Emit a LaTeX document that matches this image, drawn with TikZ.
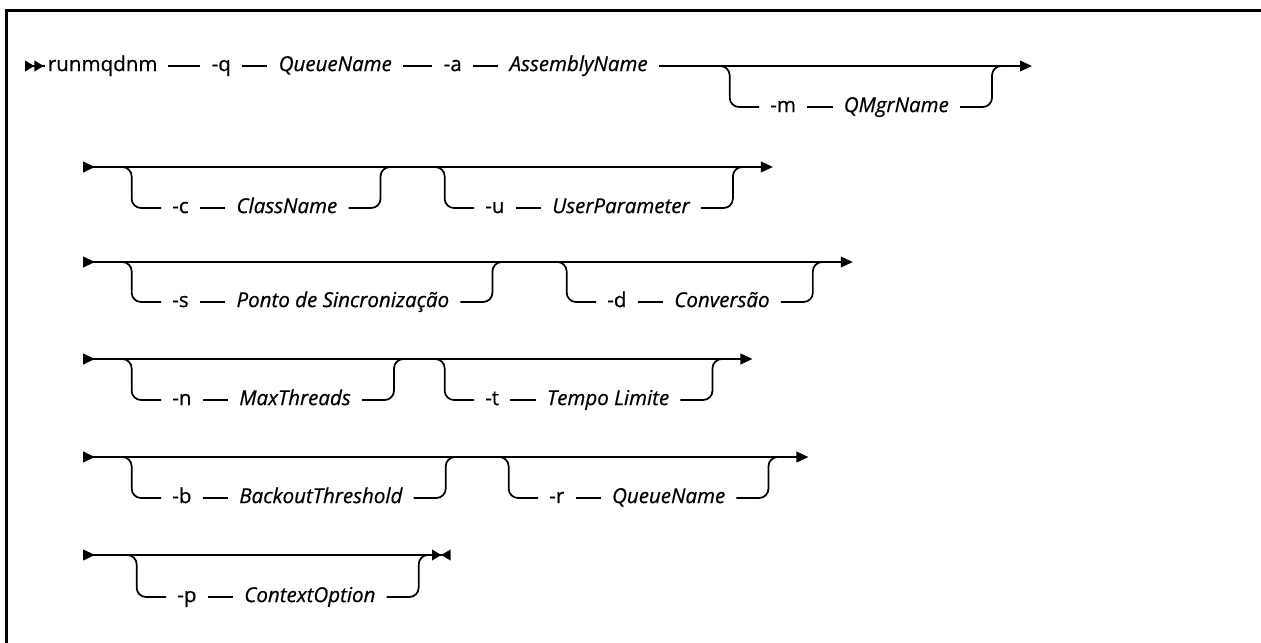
\documentclass[tikz,border=0pt]{standalone}
\usepackage{fontspec}
\setmainfont{Open Sans}[FakeBold=0.6]
\usetikzlibrary{arrows.meta,calc,positioning}
\tikzset{
  flag/.style={font=\fontsize{15.4}{18}\selectfont, inner xsep=8.25pt, inner ysep=0pt,
    text height=11pt, text depth=3.4pt},
  param/.style={flag, font=\fontsize{15.4}{18}\selectfont\itshape},
  command/.style={flag, inner xsep=2pt},
  rail/.style={draw=black, line width=1.3pt},
  branchline/.style={rail, rounded corners=7pt},
  mainrail/.style={rail, {Triangle[reversed,length=9pt,width=8pt]}-{Triangle[length=9pt,width=8pt]}},
  frame/.style={draw=black, line width=2.25pt}
}
\begin{document}
\begin{tikzpicture}[x=0.75pt, y=0.75pt]
  \useasboundingbox (0,0) rectangle (1261,-643);
  \draw[frame] (6.5,-643) -- (6.5,-10) -- (1261,-10);

  \coordinate (r1) at (25,-66);
  \node[command, anchor=west] (cmd) at (45,-66) {runmqdnm};
  \node[flag, right=30pt of cmd] (qflag) {-q};
  \node[param, right=19pt of qflag] (qname) {QueueName};
  \node[flag, right=22pt of qname] (aflag) {-a};
  \node[param, right=19pt of aflag] (aname) {AssemblyName};
  \node[flag, anchor=west] (mflag) at (759,-107) {-m};
  \node[param, right=19pt of mflag] (mname) {QMgrName};
  \coordinate[left=22pt of mflag] (min);
  \coordinate[right=24pt of mname] (mout);
  \coordinate (e1) at ($(r1 -| mout)+(30pt,0)$);
  \draw[rail, {Triangle[reversed,length=7pt,width=8pt,sep=0pt]Triangle[reversed,length=7pt,width=8pt,sep=0pt]}-] (r1) -- (cmd);
  \draw[rail, shorten <=6pt] (cmd) -- (qflag);
  \draw[rail] (qflag) -- (qname);
  \draw[rail] (qname) -- (aflag);
  \draw[rail] (aflag) -- (aname);
  \draw[rail, -{Triangle[length=9pt,width=8pt]}] (aname) -- (e1);
  \draw[rail] (mflag) -- (mname);
  \draw[branchline] (r1 -| min) ++(-8pt,0) -- (r1 -| min) -- (min) -- (mflag);
  \draw[branchline] (mname) -- (mout) -- (r1 -| mout) -- ++(8pt,0);

  \coordinate (r2) at (83,-167);
  \node[flag, anchor=west] (cflag) at (161,-208) {-c};
  \node[param, right=19pt of cflag] (cname) {ClassName};
  \node[flag, anchor=west] (uflag) at (474,-208) {-u};
  \node[param, right=19pt of uflag] (uname) {UserParameter};
  \coordinate[left=22pt of cflag] (cin);
  \coordinate[right=24pt of cname] (cout);
  \coordinate[left=22pt of uflag] (uin);
  \coordinate[right=24pt of uname] (uout);
  \coordinate (e2) at ($(r2 -| uout)+(30pt,0)$);
  \draw[mainrail] (r2) -- (e2);
  \draw[rail] (cflag) -- (cname);
  \draw[rail] (uflag) -- (uname);
  \draw[branchline] (r2 -| cin) ++(-8pt,0) -- (r2 -| cin) -- (cin) -- (cflag);
  \draw[branchline] (cname) -- (cout) -- (r2 -| cout) -- ++(8pt,0);
  \draw[branchline] (r2 -| uin) ++(-8pt,0) -- (r2 -| uin) -- (uin) -- (uflag);
  \draw[branchline] (uname) -- (uout) -- (r2 -| uout) -- ++(8pt,0);

  \coordinate (r3) at (83,-262);
  \node[flag, anchor=west] (sflag) at (161,-302) {-s};
  \node[param, right=19pt of sflag] (sname) {Ponto de Sincronização};
  \node[flag, anchor=west] (dflag) at (596,-302) {-d};
  \node[param, right=19pt of dflag] (dname) {Conversão};
  \coordinate[left=22pt of sflag] (sin);
  \coordinate[right=24pt of sname] (sout);
  \coordinate[left=22pt of dflag] (din);
  \coordinate[right=24pt of dname] (dout);
  \coordinate (e3) at ($(r3 -| dout)+(30pt,0)$);
  \draw[mainrail] (r3) -- (e3);
  \draw[rail] (sflag) -- (sname);
  \draw[rail] (dflag) -- (dname);
  \draw[branchline] (r3 -| sin) ++(-8pt,0) -- (r3 -| sin) -- (sin) -- (sflag);
  \draw[branchline] (sname) -- (sout) -- (r3 -| sout) -- ++(8pt,0);
  \draw[branchline] (r3 -| din) ++(-8pt,0) -- (r3 -| din) -- (din) -- (dflag);
  \draw[branchline] (dname) -- (dout) -- (r3 -| dout) -- ++(8pt,0);

  \coordinate (r4) at (83,-359);
  \node[flag, anchor=west] (nflag) at (161,-400) {-n};
  \node[param, right=19pt of nflag] (nname) {MaxThreads};
  \node[flag, anchor=west] (tflag) at (474,-400) {-t};
  \node[param, right=19pt of tflag] (tname) {Tempo Limite};
  \coordinate[left=22pt of nflag] (nin);
  \coordinate[right=24pt of nname] (nout);
  \coordinate[left=22pt of tflag] (tin);
  \coordinate[right=24pt of tname] (tout);
  \coordinate (e4) at ($(r4 -| tout)+(30pt,0)$);
  \draw[mainrail] (r4) -- (e4);
  \draw[rail] (nflag) -- (nname);
  \draw[rail] (tflag) -- (tname);
  \draw[branchline] (r4 -| nin) ++(-8pt,0) -- (r4 -| nin) -- (nin) -- (nflag);
  \draw[branchline] (nname) -- (nout) -- (r4 -| nout) -- ++(8pt,0);
  \draw[branchline] (r4 -| tin) ++(-8pt,0) -- (r4 -| tin) -- (tin) -- (tflag);
  \draw[branchline] (tname) -- (tout) -- (r4 -| tout) -- ++(8pt,0);

  \coordinate (r5) at (83,-457);
  \node[flag, anchor=west] (bflag) at (161,-498) {-b};
  \node[param, right=19pt of bflag] (bname) {BackoutThreshold};
  \node[flag, anchor=west] (rflag) at (538,-498) {-r};
  \node[param, right=19pt of rflag] (rname) {QueueName};
  \coordinate[left=22pt of bflag] (bin);
  \coordinate[right=24pt of bname] (bout);
  \coordinate[left=22pt of rflag] (rin);
  \coordinate[right=24pt of rname] (rout);
  \coordinate (e5) at ($(r5 -| rout)+(30pt,0)$);
  \draw[mainrail] (r5) -- (e5);
  \draw[rail] (bflag) -- (bname);
  \draw[rail] (rflag) -- (rname);
  \draw[branchline] (r5 -| bin) ++(-8pt,0) -- (r5 -| bin) -- (bin) -- (bflag);
  \draw[branchline] (bname) -- (bout) -- (r5 -| bout) -- ++(8pt,0);
  \draw[branchline] (r5 -| rin) ++(-8pt,0) -- (r5 -| rin) -- (rin) -- (rflag);
  \draw[branchline] (rname) -- (rout) -- (r5 -| rout) -- ++(8pt,0);

  \coordinate (r6) at (83,-555);
  \node[flag, anchor=west] (pflag) at (166,-597) {-p};
  \node[param, right=19pt of pflag] (pname) {ContextOption};
  \coordinate[left=22pt of pflag] (pin);
  \coordinate[right=24pt of pname] (pout);
  \coordinate (e6) at ($(r6 -| pout)+(24pt,0)$);
  \draw[rail, {Triangle[reversed,length=9pt,width=8pt]}-{Triangle[length=7pt,width=8pt,sep=0pt]Triangle[reversed,length=7pt,width=8pt]}] (r6) -- (e6);
  \draw[rail] (pflag) -- (pname);
  \draw[branchline] (r6 -| pin) ++(-8pt,0) -- (r6 -| pin) -- (pin) -- (pflag);
  \draw[branchline] (pname) -- (pout) -- (r6 -| pout) -- ++(8pt,0);
\end{tikzpicture}
\end{document}
